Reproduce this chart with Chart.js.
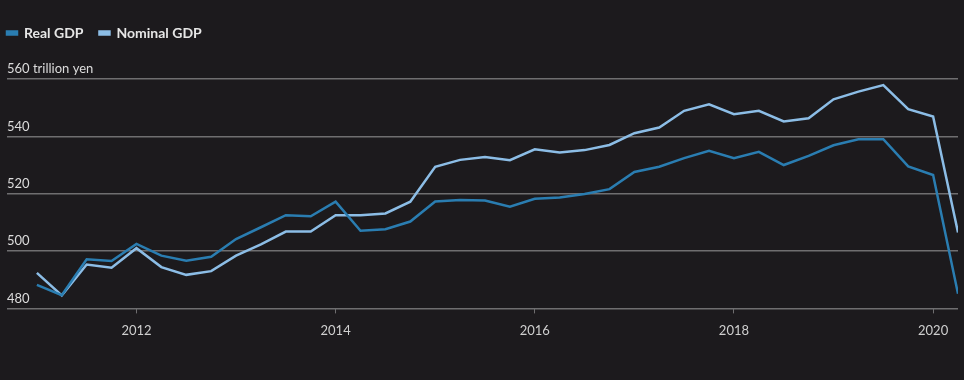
<!DOCTYPE html>
<html>
<head>
<meta charset="utf-8">
<script src="https://cdn.jsdelivr.net/npm/chart.js@4"></script>
<style>
  html, body { margin: 0; padding: 0; background: #1c1a1d; }
  #wrap { width: 964px; height: 380px; position: relative; }
</style>
</head>
<body>
<div id="wrap"><canvas id="c" width="964" height="380"></canvas></div>
<script>
const quarters = [
  "2011 Q1","2011 Q2","2011 Q3","2011 Q4",
  "2012 Q1","2012 Q2","2012 Q3","2012 Q4",
  "2013 Q1","2013 Q2","2013 Q3","2013 Q4",
  "2014 Q1","2014 Q2","2014 Q3","2014 Q4",
  "2015 Q1","2015 Q2","2015 Q3","2015 Q4",
  "2016 Q1","2016 Q2","2016 Q3","2016 Q4",
  "2017 Q1","2017 Q2","2017 Q3","2017 Q4",
  "2018 Q1","2018 Q2","2018 Q3","2018 Q4",
  "2019 Q1","2019 Q2","2019 Q3","2019 Q4",
  "2020 Q1","2020 Q2"
];
const realGDP = [
  488.2, 484.6, 497.1, 496.5, 502.5, 498.4, 496.6, 498.0,
  504.2, 508.3, 512.5, 512.1, 517.2, 507.1, 507.6, 510.3,
  517.3, 517.8, 517.6, 515.5, 518.2, 518.7, 519.9, 521.6,
  527.6, 529.4, 532.4, 535.0, 532.4, 534.6, 530.0, 533.2,
  536.9, 539.0, 539.0, 529.5, 526.5, 485.1
];
const nominalGDP = [
  492.4, 484.5, 495.3, 494.2, 501.0, 494.4, 491.7, 493.0,
  498.4, 502.3, 506.8, 506.8, 512.5, 512.5, 513.1, 517.2,
  529.4, 531.8, 532.8, 531.7, 535.5, 534.4, 535.2, 537.0,
  541.1, 543.1, 548.9, 551.2, 547.7, 548.9, 545.2, 546.3,
  552.9, 555.6, 557.9, 549.5, 546.9, 506.5
];
const yTicks = [480, 500, 520, 540, 560];
const yTickLabels = ["480", "500", "520", "540", "560 trillion yen"];
const xTicks = [2012, 2014, 2016, 2018, 2020];
const seriesNames = ["Real GDP", "Nominal GDP"];

function toX(q) {
  const [y, qq] = q.split(" Q");
  return Number(y) + (Number(qq) - 1) / 4;
}
function pts(vals) {
  return vals.map((v, i) => ({ x: toX(quarters[i]), y: v }));
}

const FONT = "Lato, 'Open Sans', sans-serif";
const GRID = "#6f6e70";

const legendSpacer = {
  id: "legendSpacer",
  beforeInit(chart) {
    const orig = chart.legend.fit;
    chart.legend.fit = function () {
      orig.bind(chart.legend)();
      this.height += 29;
    };
  },
  afterLayout(chart) {
    chart.legend.left -= 16;
    chart.legend.right -= 16;
  }
};

new Chart(document.getElementById("c"), {
  type: "line",
  data: {
    datasets: [
      { label: seriesNames[0], data: pts(realGDP), borderColor: "#2a7db1", backgroundColor: "#2a7db1",
        borderWidth: 2.5, pointRadius: 0, tension: 0 },
      { label: seriesNames[1], data: pts(nominalGDP), borderColor: "#8cbde6", backgroundColor: "#8cbde6",
        borderWidth: 2.5, pointRadius: 0, tension: 0 }
    ]
  },
  plugins: [legendSpacer],
  options: {
    responsive: false,
    animation: false,
    events: [],
    layout: { padding: { left: 7, right: 6, top: 10, bottom: 31 } },
    plugins: {
      legend: {
        display: true,
        position: "top",
        align: "start",
        labels: {
          boxWidth: 10, boxHeight: 3, padding: 16,
          color: "#e6e6e6",
          font: { family: FONT, size: 14, weight: "bold" }
        }
      },
      tooltip: { enabled: false }
    },
    scales: {
      x: {
        type: "linear",
        min: 2010.7,
        max: 2020.25,
        afterBuildTicks: (s) => { s.ticks = xTicks.map(v => ({ value: v })); },
        ticks: {
          color: "#cfcfcf",
          font: { family: FONT, size: 13 },
          padding: 10,
          maxRotation: 0,
          callback: (v) => String(v)
        },
        grid: { drawOnChartArea: false, drawTicks: true, tickLength: 5, color: GRID, lineWidth: 1 },
        border: { display: false }
      },
      y: {
        min: 480,
        max: 560,
        afterBuildTicks: (s) => { s.ticks = yTicks.map(v => ({ value: v })); },
        ticks: {
          mirror: true,
          padding: 0,
          labelOffset: -10,
          color: "#dcdcdc",
          font: { family: FONT, size: 13 },
          callback: (v) => yTickLabels[yTicks.indexOf(v)]
        },
        grid: { drawTicks: false, color: GRID, lineWidth: 1.5 },
        border: { display: false }
      }
    }
  }
});
</script>
</body>
</html>
